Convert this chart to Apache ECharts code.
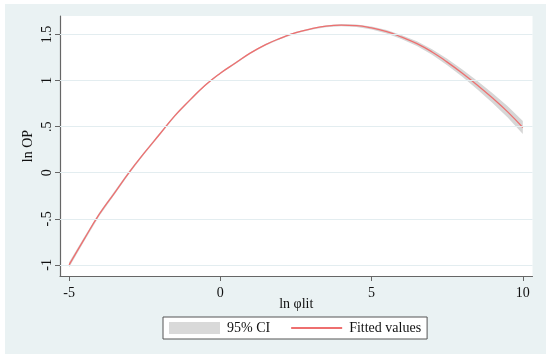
<!DOCTYPE html>
<html>
<head>
<meta charset="utf-8">
<script src="https://cdn.jsdelivr.net/npm/echarts@6/dist/echarts.min.js"></script>
<style>
  html, body { margin: 0; padding: 0; background: #fff; }
  #chart { width: 550px; height: 360px; }
</style>
</head>
<body>
<div id="chart"></div>
<script>
const xs = [-5, -4.5, -4, -3.5, -3, -2.5, -2, -1.5, -1, -0.5, 0, 0.5, 1, 1.5, 2, 2.5,
  3, 3.5, 4, 4.5, 5, 5.5, 6, 6.5, 7, 7.5, 8, 8.5, 9, 9.5, 10]
// fitted ln OP
const fitted = [-1.00, -0.72, -0.45, -0.22, 0.01, 0.22, 0.42, 0.62, 0.79, 0.95, 1.08, 1.19, 1.30, 1.39, 1.46, 1.52,
  1.56, 1.59, 1.60, 1.595, 1.57, 1.53, 1.47, 1.40, 1.31, 1.20, 1.08, 0.95, 0.81, 0.66, 0.49]
// 95% CI bounds
const ciLow = [-1.028, -0.744, -0.47, -0.238, -0.006, 0.206, 0.407, 0.608, 0.779, 0.94, 1.07, 1.18, 1.29, 1.38, 1.45, 1.51,
  1.55, 1.579, 1.588, 1.581, 1.554, 1.511, 1.448, 1.374, 1.28, 1.165, 1.04, 0.904, 0.757, 0.599, 0.42]
const ciHigh = [-0.972, -0.696, -0.43, -0.202, 0.026, 0.234, 0.433, 0.632, 0.801, 0.96, 1.09, 1.20, 1.31, 1.40, 1.47, 1.53,
  1.57, 1.601, 1.612, 1.609, 1.586, 1.549, 1.492, 1.426, 1.34, 1.235, 1.12, 0.996, 0.863, 0.721, 0.56]

const xTicks = [-5, 0, 5, 10]
const yTicks = [-1, -0.5, 0, 0.5, 1, 1.5]
const yLabels = ['-1', '-.5', '0', '.5', '1', '1.5']

const font = 'Liberation Serif'
const txt = '#111'

const fitPts = xs.map((x, i) => [x, fitted[i]])

// band polygon: upper edge left->right, lower edge right->left
function renderBand(params, api) {
  const pts = []
  xs.forEach((x, i) => pts.push(api.coord([x, ciHigh[i]])))
  for (let i = xs.length - 1; i >= 0; i--) pts.push(api.coord([xs[i], ciLow[i]]))
  return {
    type: 'polygon',
    shape: { points: pts },
    style: { fill: '#d6d6d6', stroke: 'none' },
  }
}

const option = {
  animation: false,
  backgroundColor: '#fff',
  graphic: [
    {
      type: 'rect',
      z: -10,
      silent: true,
      shape: { x: 5, y: 4, width: 541, height: 350 },
      style: { fill: '#eaf2f3' },
    },
  ],
  grid: {
    left: 60,
    top: 16,
    width: 472.5,
    height: 260,
    show: true,
    backgroundColor: '#fff',
    borderWidth: 0,
  },
  xAxis: {
    type: 'value',
    min: -5.3,
    max: 10.32,
    name: 'ln φlit',
    nameLocation: 'middle',
    nameGap: 21,
    nameMoveOverlap: false,
    nameTextStyle: { fontFamily: font, fontSize: 14, color: txt },
    axisLine: { show: true, onZero: false, lineStyle: { color: '#666', width: 1.2 } },
    axisTick: { show: true, length: 5, customValues: xTicks, lineStyle: { color: '#666' } },
    axisLabel: {
      customValues: xTicks,
      margin: 10,
      fontFamily: font,
      fontSize: 14,
      color: txt,
    },
    splitLine: { show: false },
  },
  yAxis: {
    type: 'value',
    min: -1.12,
    max: 1.70,
    name: 'ln OP',
    nameLocation: 'middle',
    nameRotate: 90,
    nameGap: 25,
    nameMoveOverlap: false,
    nameTextStyle: { fontFamily: font, fontSize: 14, color: txt },
    axisLine: { show: true, onZero: false, lineStyle: { color: '#666', width: 1.2 } },
    axisTick: { show: true, length: 5, customValues: yTicks, lineStyle: { color: '#666' } },
    axisLabel: {
      customValues: yTicks,
      rotate: 90,
      margin: 6,
      fontFamily: font,
      fontSize: 14,
      color: txt,
      formatter: (v) => {
        let k = 0
        yTicks.forEach((t, i) => { if (Math.abs(t - v) < Math.abs(yTicks[k] - v)) k = i })
        return yLabels[k]
      },
    },
    splitLine: { show: false },
  },
  legend: {
    left: 163,
    top: 317,
    orient: 'horizontal',
    padding: [4, 6, 4, 6],
    itemWidth: 51,
    itemHeight: 12,
    itemGap: 20,
    backgroundColor: '#fff',
    borderColor: '#555',
    borderWidth: 1,
    borderRadius: 0,
    selectedMode: false,
    textStyle: { fontFamily: font, fontSize: 14, color: txt, padding: [0, 0, 0, 2] },
    data: [
      { name: '95% CI', icon: 'rect', itemStyle: { color: '#d9d9d9', borderWidth: 0 } },
      { name: 'Fitted values', itemStyle: { opacity: 0 } },
    ],
  },
  series: [
    {
      // horizontal grid lines
      type: 'line',
      data: [],
      z: 1,
      silent: true,
      markLine: {
        silent: true,
        symbol: 'none',
        label: { show: false },
        lineStyle: { color: '#e3edf0', type: 'solid', width: 1 },
        data: yTicks.map((v) => ({ yAxis: v })),
      },
    },
    {
      name: '95% CI',
      type: 'custom',
      data: [[xs[0], ciLow[0]]],
      renderItem: renderBand,
      z: 2,
      color: '#d9d9d9',
      itemStyle: { color: '#d9d9d9' },
    },
    {
      name: 'Fitted values',
      type: 'line',
      data: fitPts,
      symbol: 'none',
      smooth: true,
      z: 3,
      color: '#ee6f6f',
      lineStyle: { color: '#ee6f6f', width: 1.3 },
    },
  ],
}

const myChart = echarts.init(document.getElementById('chart'))
myChart.setOption(option)
</script>
</body>
</html>
